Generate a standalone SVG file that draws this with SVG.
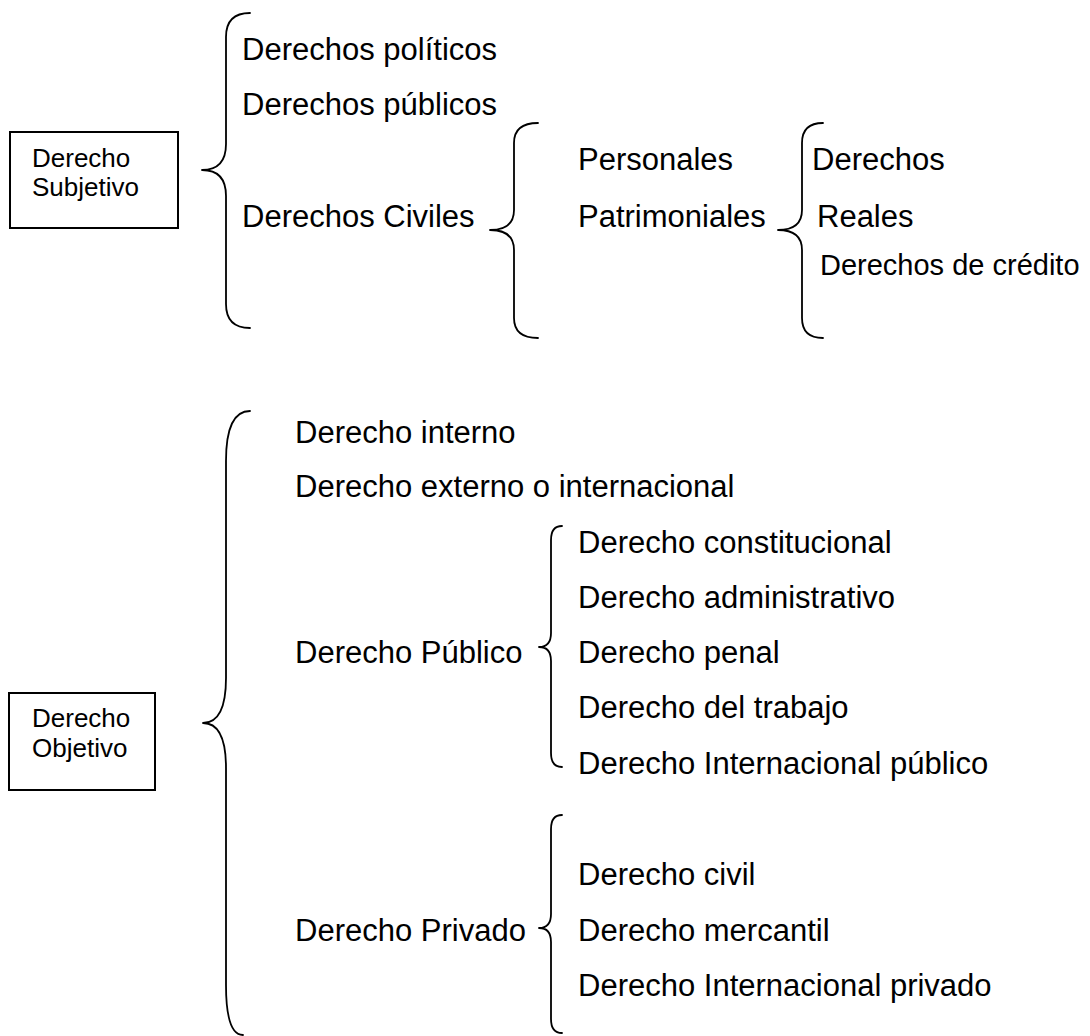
<svg xmlns="http://www.w3.org/2000/svg" width="1090" height="1036" viewBox="0 0 1090 1036">
<style>
.t{font-family:"Liberation Sans",Arial,sans-serif;font-size:31px;fill:#000}
.s{font-family:"Liberation Sans",Arial,sans-serif;font-size:26px;fill:#000}
.m{font-family:"Liberation Sans",Arial,sans-serif;font-size:29px;fill:#000}
.box{fill:#fff;stroke:#000;stroke-width:2}
.br{fill:none;stroke:#000;stroke-width:1.8;stroke-linecap:round;stroke-linejoin:round}
</style>
<rect width="1090" height="1036" fill="#fff"/>
<g id="connectors">
<path class="br" d="M250 13 Q226 13 226 37 L226 144 Q226 170 202 170 Q226 170 226 196 L226 304 Q226 328 250 328"/>
<path class="br" d="M538 123 Q514 123 514 143 L514 210 Q514 230 490 230 Q514 230 514 250 L514 318 Q514 338 538 338"/>
<path class="br" d="M823 123 Q802 123 802 143 L802 210 Q802 230 778 230 Q802 230 802 250 L802 318 Q802 338 823 338"/>
<path class="br" d="M250 411 Q226 411 226 461 L226 678 Q226 723 203 723 Q226 723 226 768 L226 985 Q226 1035 243 1035"/>
<path class="br" d="M562 526 Q551 526 551 540 L551 633 Q551 647 539 647 Q551 647 551 661 L551 753 Q551 767 562 767"/>
<path class="br" d="M562 815 Q551 815 551 829 L551 914 Q551 928 539 928 Q551 928 551 942 L551 1019 Q551 1033 562 1033"/>
</g>
<g id="derecho-subjetivo">
<rect class="box" x="10" y="132" width="168" height="96"/>
<text class="s" x="32" y="167">Derecho</text>
<text class="s" x="32" y="196">Subjetivo</text>
</g>
<g id="derechos-politicos"><text class="t" x="242" y="60">Derechos políticos</text></g>
<g id="derechos-publicos"><text class="t" x="242" y="115">Derechos públicos</text></g>
<g id="derechos-civiles"><text class="t" x="242" y="227">Derechos Civiles</text></g>
<g id="personales"><text class="t" x="578" y="170">Personales</text></g>
<g id="patrimoniales"><text class="t" x="578" y="227">Patrimoniales</text></g>
<g id="derechos-reales">
<text class="t" x="812" y="170">Derechos</text>
<text class="t" x="817" y="227">Reales</text>
</g>
<g id="derechos-credito"><text class="m" x="820" y="275">Derechos de crédito</text></g>
<g id="derecho-objetivo">
<rect class="box" x="9" y="693" width="146" height="97"/>
<text class="s" x="32" y="727">Derecho</text>
<text class="s" x="32" y="757">Objetivo</text>
</g>
<g id="derecho-interno"><text class="t" x="295" y="443">Derecho interno</text></g>
<g id="derecho-externo"><text class="t" x="295" y="497">Derecho externo o internacional</text></g>
<g id="derecho-publico"><text class="t" x="295" y="663">Derecho Público</text></g>
<g id="derecho-privado"><text class="t" x="295" y="941">Derecho Privado</text></g>
<g id="derecho-constitucional"><text class="t" x="578" y="553">Derecho constitucional</text></g>
<g id="derecho-administrativo"><text class="t" x="578" y="608">Derecho administrativo</text></g>
<g id="derecho-penal"><text class="t" x="578" y="663">Derecho penal</text></g>
<g id="derecho-trabajo"><text class="t" x="578" y="718">Derecho del trabajo</text></g>
<g id="derecho-int-publico"><text class="t" x="578" y="774">Derecho Internacional público</text></g>
<g id="derecho-civil"><text class="t" x="578" y="885">Derecho civil</text></g>
<g id="derecho-mercantil"><text class="t" x="578" y="941">Derecho mercantil</text></g>
<g id="derecho-int-privado"><text class="t" x="578" y="996">Derecho Internacional privado</text></g>
</svg>
